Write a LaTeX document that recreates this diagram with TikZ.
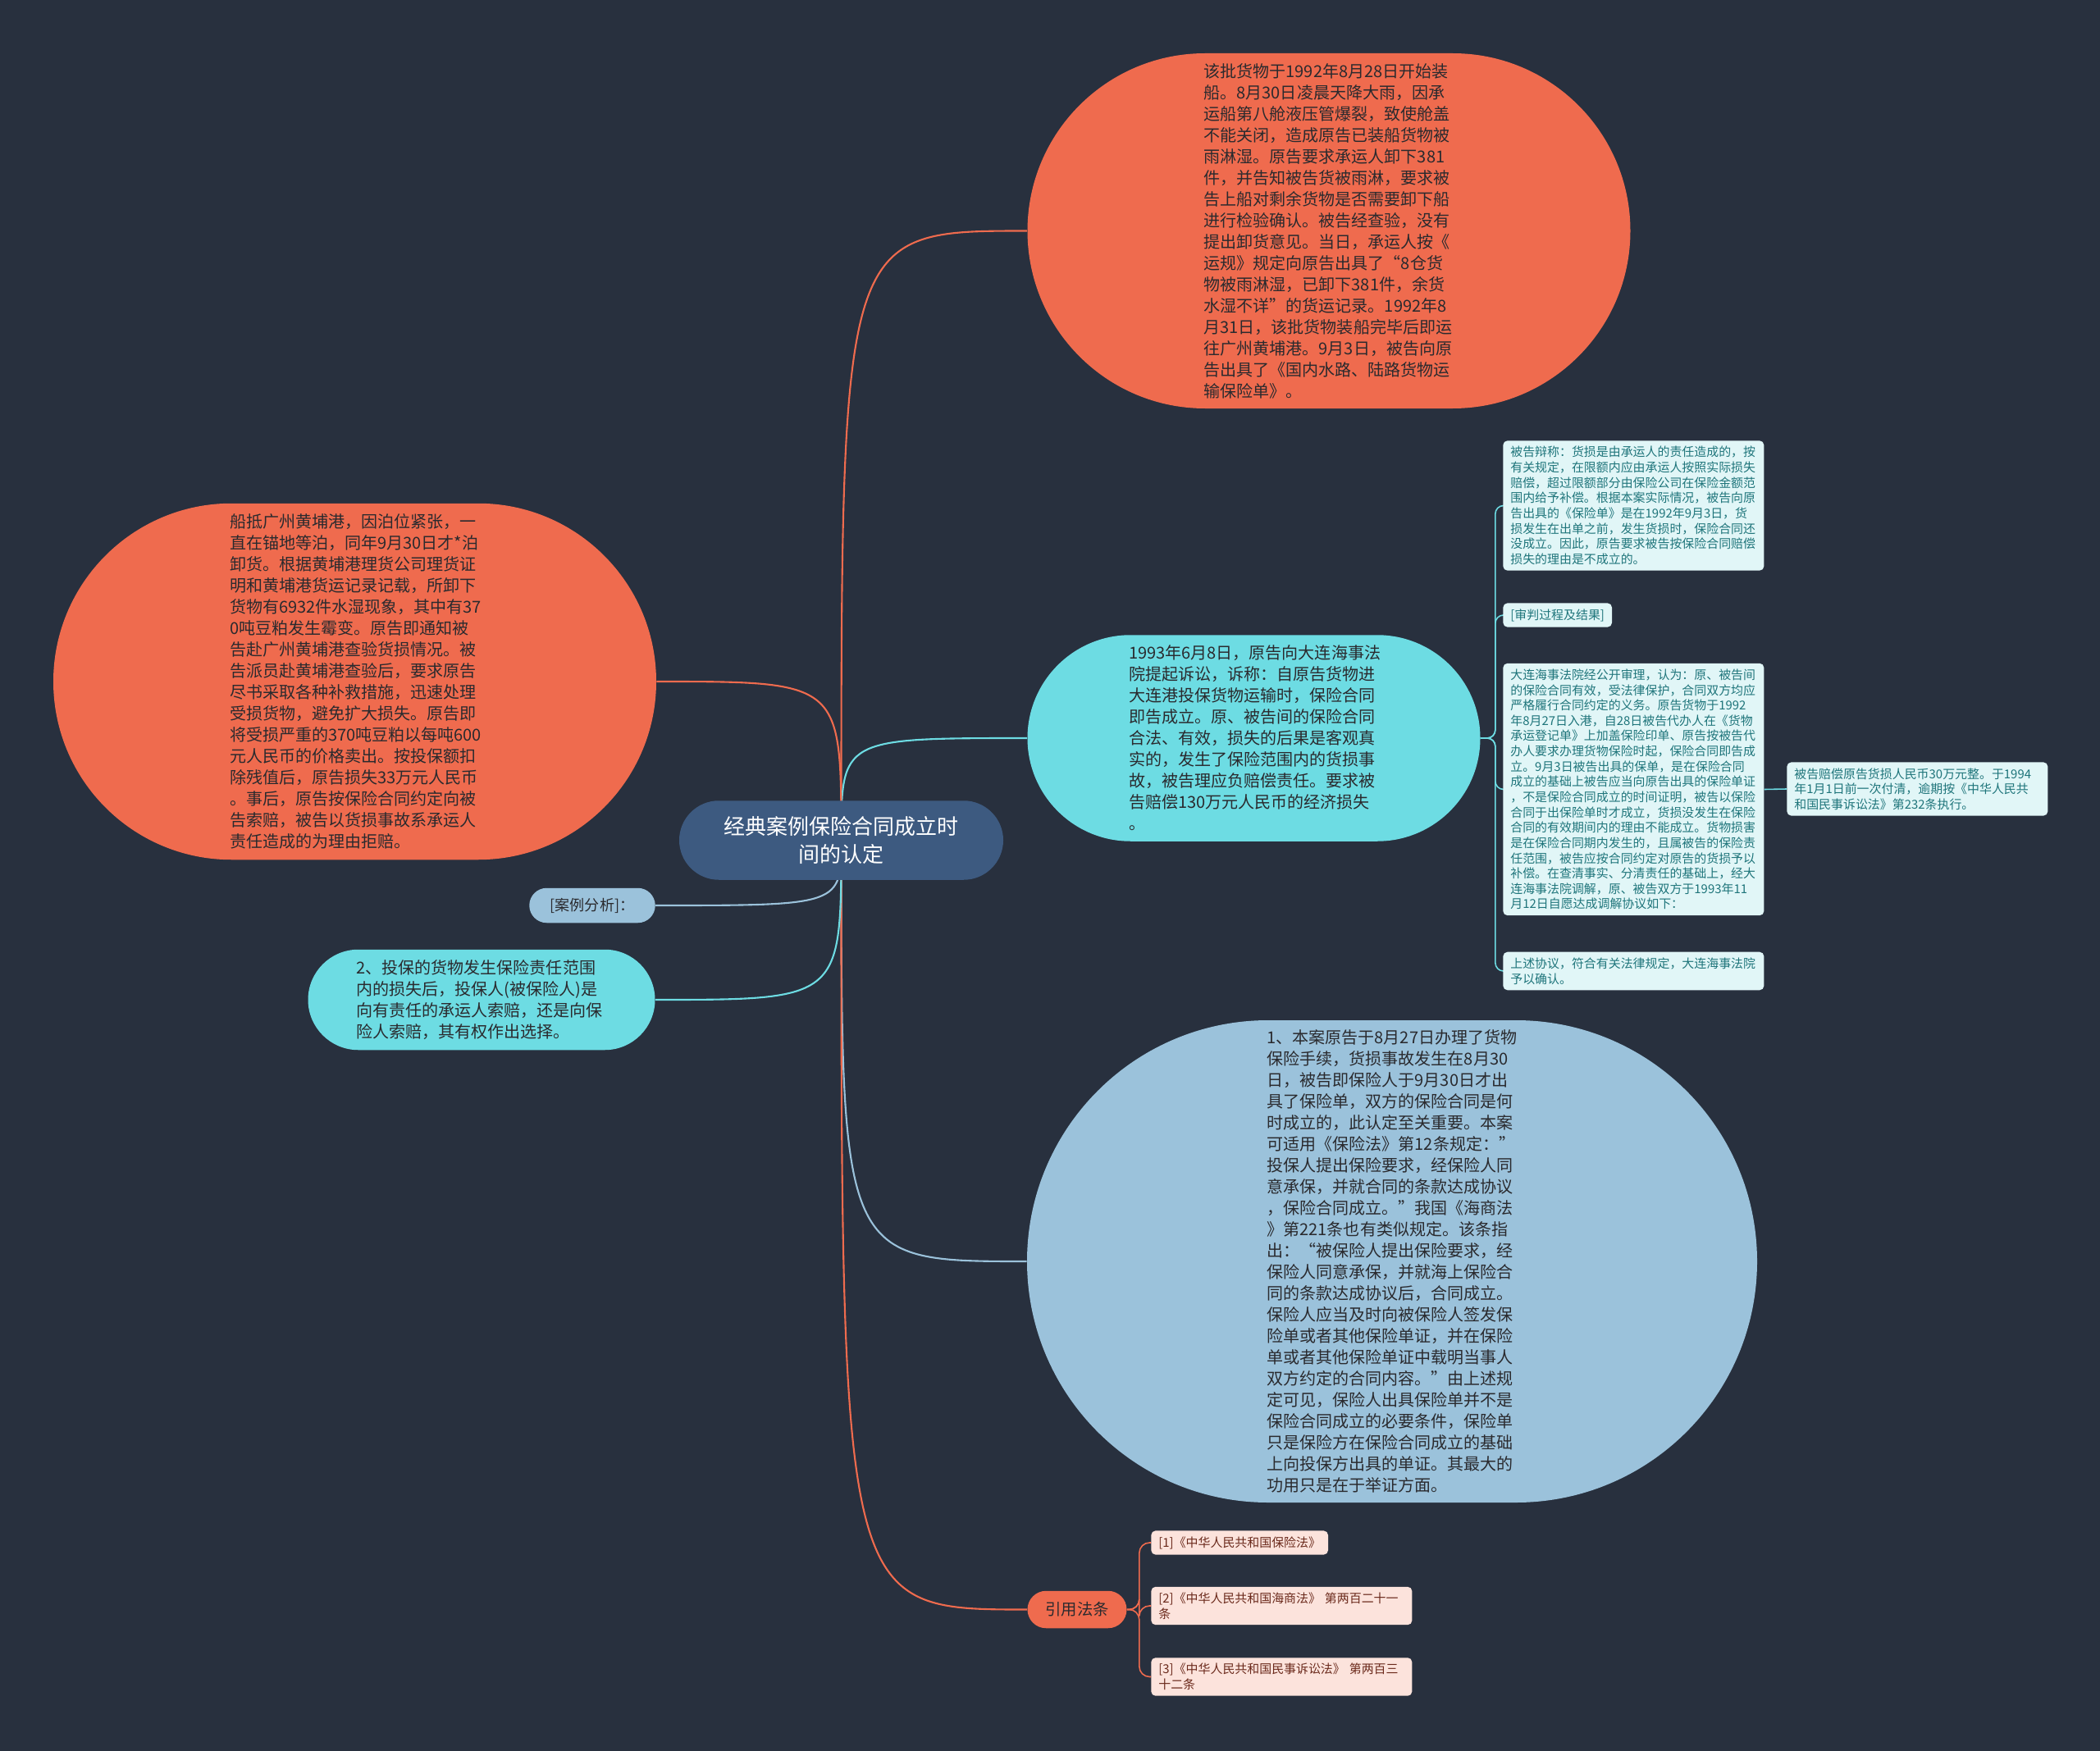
\documentclass[tikz,border=0pt]{standalone}
\usepackage{fontspec}
\setmainfont{Noto Sans CJK SC}
\usetikzlibrary{arrows.meta,positioning,calc,shapes.misc}
\setlength{\parindent}{0pt}
\definecolor{Night}{HTML}{28303E}
\definecolor{Coral}{HTML}{EF6B4E}
\definecolor{Aqua}{HTML}{6DDCE3}
\definecolor{Sky}{HTML}{9BC2DB}
\definecolor{Slate}{HTML}{3D5A80}
\definecolor{Mist}{HTML}{E1F6F7}
\definecolor{Peach}{HTML}{FCE3DC}
\definecolor{Ink}{HTML}{2A2A2E}
\definecolor{TealInk}{HTML}{1F757B}
\definecolor{Brick}{HTML}{6B2A1C}
\pgfdeclarelayer{back}
\pgfsetlayers{back,main}
\tikzset{
 bubble/.style={rounded rectangle,align=left,text width=6.1cm,inner sep=0pt,text=Ink,font=\fontsize{11.4}{14.8}\selectfont},
 hot/.style={bubble,fill=Coral},
 cool/.style={bubble,fill=Aqua},
 pale/.style={bubble,fill=Sky},
 card/.style={rectangle,rounded corners=3pt,fill=Mist,text=TealInk,align=left,inner xsep=.18cm,inner ysep=.14cm,font=\fontsize{8.5}{10.6}\selectfont},
 lawbox/.style={card,fill=Peach,text=Brick},
 branch/.style={line width=1.2pt},
 twig/.style={line width=.9pt}
}

\begin{document}
\begin{tikzpicture}
\node[rounded rectangle,fill=Slate,text=white,align=center,inner sep=0pt,minimum width=7.9cm,minimum height=1.93cm,font=\fontsize{14.8}{19.4}\selectfont] (root) at (20.51,-20.49) {经典案例保险合同成立时\\间的认定};
\node[hot,minimum width=14.7cm,minimum height=8.66cm] (loading) at (32.4,-5.63) {该批货物于1992年8月28日开始装\\
船。8月30日凌晨天降大雨，因承\\
运船第八舱液压管爆裂，致使舱盖\\
不能关闭，造成原告已装船货物被\\
雨淋湿。原告要求承运人卸下381\\
件，并告知被告货被雨淋，要求被\\
告上船对剩余货物是否需要卸下船\\
进行检验确认。被告经查验，没有\\
提出卸货意见。当日，承运人按《\\
运规》规定向原告出具了“8仓货\\
物被雨淋湿，已卸下381件，余货\\
水湿不详”的货运记录。1992年8\\
月31日，该批货物装船完毕后即运\\
往广州黄埔港。9月3日，被告向原\\
告出具了《国内水路、陆路货物运\\
输保险单》。};
\node[hot,minimum width=14.7cm,minimum height=8.69cm] (berth) at (8.65,-16.62) {船抵广州黄埔港，因泊位紧张，一\\
直在锚地等泊，同年9月30日才*泊\\
卸货。根据黄埔港理货公司理货证\\
明和黄埔港货运记录记载，所卸下\\
货物有6932件水湿现象，其中有37\\
0吨豆粕发生霉变。原告即通知被\\
告赴广州黄埔港查验货损情况。被\\
告派员赴黄埔港查验后，要求原告\\
尽书采取各种补救措施，迅速处理\\
受损货物，避免扩大损失。原告即\\
将受损严重的370吨豆粕以每吨600\\
元人民币的价格卖出。按投保额扣\\
除残值后，原告损失33万元人民币\\
。事后，原告按保险合同约定向被\\
告索赔，被告以货损事故系承运人\\
责任造成的为理由拒赔。};
\node[rounded rectangle,fill=Sky,text=Ink,inner sep=0pt,minimum width=3.07cm,minimum height=.85cm,font=\fontsize{10.3}{12}\selectfont] (analysis) at (14.44,-22.08) {[案例分析]：};
\node[cool,minimum width=8.46cm,minimum height=2.45cm] (choice) at (11.74,-24.38) {2、投保的货物发生保险责任范围\\
内的损失后，投保人(被保险人)是\\
向有责任的承运人索赔，还是向保\\
险人索赔，其有权作出选择。};
\node[cool,minimum width=11.04cm,minimum height=5.03cm] (suit) at (30.57,-18.0) {1993年6月8日，原告向大连海事法\\
院提起诉讼，诉称：自原告货物进\\
大连港投保货物运输时，保险合同\\
即告成立。原、被告间的保险合同\\
合法、有效，损失的后果是客观真\\
实的，发生了保险范围内的货损事\\
故，被告理应负赔偿责任。要求被\\
告赔偿130万元人民币的经济损失\\
。};
\node[card,text width=6cm,anchor=west] (defense) at (36.64,-12.33) {被告辩称：货损是由承运人的责任造成的，按\\
有关规定，在限额内应由承运人按照实际损失\\
赔偿，超过限额部分由保险公司在保险金额范\\
围内给予补偿。根据本案实际情况，被告向原\\
告出具的《保险单》是在1992年9月3日，货\\
损发生在出单之前，发生货损时，保险合同还\\
没成立。因此，原告要求被告按保险合同赔偿\\
损失的理由是不成立的。};
\node[card,anchor=west] (trial) at (36.64,-15.0) {[审判过程及结果]};
\node[card,text width=6cm,anchor=west] (court) at (36.64,-19.25) {大连海事法院经公开审理，认为：原、被告间\\
的保险合同有效，受法律保护，合同双方均应\\
严格履行合同约定的义务。原告货物于1992\\
年8月27日入港，自28日被告代办人在《货物\\
承运登记单》上加盖保险印单、原告按被告代\\
办人要求办理货物保险时起，保险合同即告成\\
立。9月3日被告出具的保单，是在保险合同\\
成立的基础上被告应当向原告出具的保险单证\\
，不是保险合同成立的时间证明，被告以保险\\
合同于出保险单时才成立，货损没发生在保险\\
合同的有效期间内的理由不能成立。货物损害\\
是在保险合同期内发生的，且属被告的保险责\\
任范围，被告应按合同约定对原告的货损予以\\
补偿。在查清事实、分清责任的基础上，经大\\
连海事法院调解，原、被告双方于1993年11\\
月12日自愿达成调解协议如下：};
\node[card,text width=6cm,anchor=west] (confirm) at (36.64,-23.68) {上述协议，符合有关法律规定，大连海事法院\\
予以确认。};
\node[card,text width=6cm,anchor=west] (payment) at (43.56,-19.24) {被告赔偿原告货损人民币30万元整。于1994\\
年1月1日前一次付清，逾期按《中华人民共\\
和国民事诉讼法》第232条执行。};
\node[pale,minimum width=17.8cm,minimum height=11.76cm] (reason) at (33.94,-30.76) {1、本案原告于8月27日办理了货物\\
保险手续，货损事故发生在8月30\\
日，被告即保险人于9月30日才出\\
具了保险单，双方的保险合同是何\\
时成立的，此认定至关重要。本案\\
可适用《保险法》第12条规定：”\\
投保人提出保险要求，经保险人同\\
意承保，并就合同的条款达成协议\\
，保险合同成立。”我国《海商法\\
》第221条也有类似规定。该条指\\
出：“被保险人提出保险要求，经\\
保险人同意承保，并就海上保险合\\
同的条款达成协议后，合同成立。\\
保险人应当及时向被保险人签发保\\
险单或者其他保险单证，并在保险\\
单或者其他保险单证中载明当事人\\
双方约定的合同内容。”由上述规\\
定可见，保险人出具保险单并不是\\
保险合同成立的必要条件，保险单\\
只是保险方在保险合同成立的基础\\
上向投保方出具的单证。其最大的\\
功用只是在于举证方面。};
\node[rounded rectangle,fill=Coral,text=Ink,inner sep=0pt,minimum width=2.42cm,minimum height=.91cm,font=\fontsize{11}{13}\selectfont] (laws) at (26.26,-39.25) {引用法条};
\node[lawbox,anchor=west] (law1) at (28.06,-37.62) {[1]《中华人民共和国保险法》};
\node[lawbox,anchor=west,text width=6cm] (law2) at (28.06,-39.16) {[2]《中华人民共和国海商法》 第两百二十一\\条};
\node[lawbox,anchor=west,text width=6cm] (law3) at (28.06,-40.89) {[3]《中华人民共和国民事诉讼法》 第两百三\\十二条};

\begin{pgfonlayer}{back}
\fill[Night] (0,0) rectangle (51.2,-42.7);
% branches out of the central topic
\foreach \kid/\col in {loading/Coral,suit/Aqua,reason/Sky,laws/Coral}
 \draw[branch,\col] (root.center) .. controls (root.center |- \kid.west) .. (\kid.west);
\foreach \kid/\col in {berth/Coral,analysis/Sky,choice/Aqua}
 \draw[branch,\col] (root.center) .. controls (root.center |- \kid.east) .. (\kid.east);
% sub branches
\foreach \kid in {defense,trial,court,confirm}
 \draw[twig,Aqua,rounded corners=.2cm] (suit.east) -- ++(.36,0) |- (\kid.west);
\draw[twig,Aqua] (court.east) -- (payment.west);
\foreach \kid in {law1,law2,law3}
 \draw[twig,Coral,rounded corners=.25cm] (laws.east) -- ++(.3,0) |- (\kid.west);
\end{pgfonlayer}
\end{tikzpicture}
\end{document}
